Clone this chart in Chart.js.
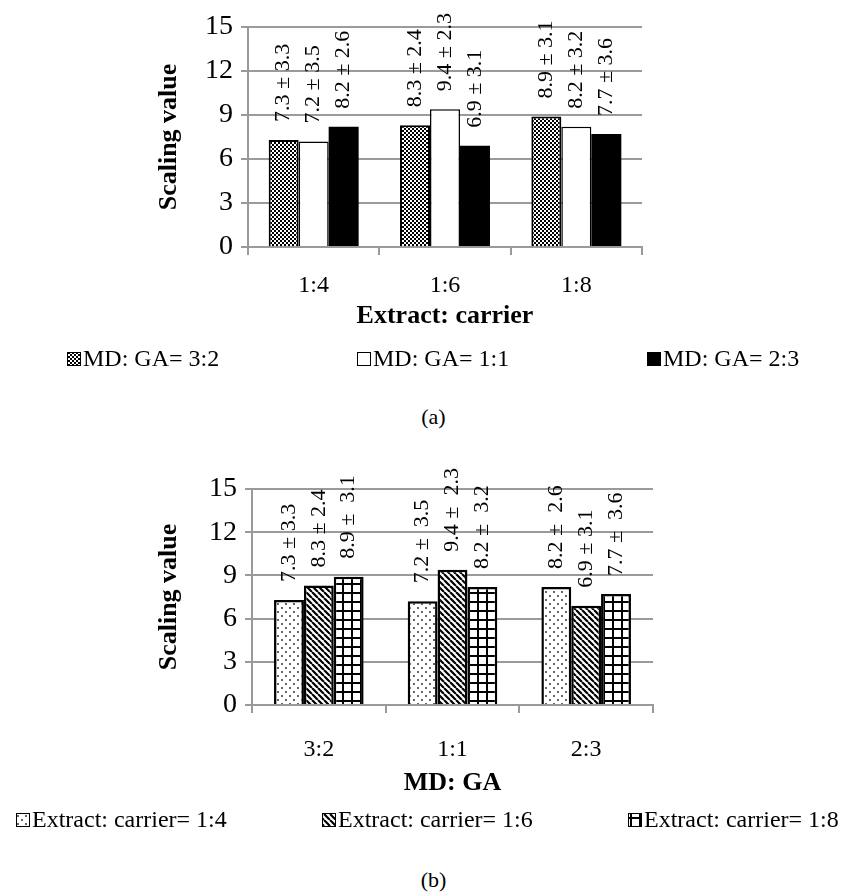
<!DOCTYPE html>
<html>
<head>
<meta charset="utf-8">
<script src="https://cdn.jsdelivr.net/npm/chart.js@4.4.0/dist/chart.umd.min.js"></script>
<style>
  body { margin: 0; background: #fff; overflow: hidden; font-family: 'Liberation Serif', serif; }
  .box { position: absolute; left: 0; width: 867px; }
  .cap { position: absolute; left: 0; width: 867px; text-align: center; font-size: 22px; line-height: 24px; }
</style>
</head>
<body>
<div class="box" style="top:0;height:380px"><canvas id="chartA"></canvas></div>
<div class="cap" style="top:405px">(a)</div>
<div class="box" style="top:430px;height:420px"><canvas id="chartB"></canvas></div>
<div class="cap" style="top:868px">(b)</div>
<script>
// (a) grouped by extract: carrier
const carrierCats = ['1:4', '1:6', '1:8'];
const mdga32 = [7.3, 8.3, 8.9];
const mdga11 = [7.2, 9.4, 8.2];
const mdga23 = [8.2, 6.9, 7.7];
const mdga32Sd = [3.3, 2.4, 3.1];
const mdga11Sd = [3.5, 2.3, 3.2];
const mdga23Sd = [2.6, 3.1, 3.6];

// (b) grouped by MD: GA
const mdgaCats = ['3:2', '1:1', '2:3'];
const carrier14 = [7.3, 7.2, 8.2];
const carrier16 = [8.3, 9.4, 6.9];
const carrier18 = [8.9, 8.2, 7.7];
const carrier14Labels = ['7.3 ± 3.3', '7.2 ±  3.5', '8.2 ±  2.6'];
const carrier16Labels = ['8.3 ± 2.4', '9.4 ±  2.3', '6.9 ± 3.1'];
const carrier18Labels = ['8.9 ±  3.1', '8.2 ±  3.2', '7.7 ±  3.6'];

const yTicks = [0, 3, 6, 9, 12, 15];

const serif = 'Liberation Serif';
const gridGrey = '#9a9a9a';

function withSd(means, sds) {
    return means.map((m, i) => m.toFixed(1) + ' ± ' + sds[i].toFixed(1));
}

function makePattern(size, draw) {
    const c = document.createElement('canvas');
    c.width = size;
    c.height = size;
    const g = c.getContext('2d');
    g.fillStyle = '#fff';
    g.fillRect(0, 0, size, size);
    g.fillStyle = '#000';
    g.strokeStyle = '#000';
    draw(g, size);
    return g.createPattern(c, 'repeat');
}

const checker = makePattern(4, g => {
    g.fillRect(0, 0, 2, 2);
    g.fillRect(2, 2, 2, 2);
});
const dots = makePattern(8, g => {
    g.fillStyle = '#666';
    g.fillRect(1, 1, 2, 2);
    g.fillRect(5, 5, 2, 2);
});
const stripes = makePattern(6, (g, s) => {
    g.lineWidth = 2.2;
    g.beginPath();
    for (let k = -s; k <= s; k += s) {
        g.moveTo(k, 0);
        g.lineTo(k + s, s);
    }
    g.stroke();
});
const grid = makePattern(9, g => {
    g.fillRect(0, 0, 9, 2);
    g.fillRect(0, 0, 2, 9);
});

// rotated "mean ± sd" text above each bar
const valueLabels = {
    id: 'valueLabels',
    afterDatasetsDraw(chart, args, opts) {
        const ctx = chart.ctx;
        chart.data.datasets.forEach((ds, i) => {
            chart.getDatasetMeta(i).data.forEach((bar, j) => {
                ctx.save();
                ctx.translate(bar.x, bar.y - opts.gap);
                ctx.rotate(-Math.PI / 2);
                ctx.font = opts.size + 'px "' + serif + '"';
                ctx.fillStyle = '#000';
                ctx.textAlign = 'left';
                ctx.textBaseline = 'middle';
                ctx.fillText(ds.valueText[j], 0, 0);
                ctx.restore();
            });
        });
    }
};

// legend spread out like the Excel one
const patternLegend = {
    id: 'patternLegend',
    afterDraw(chart, args, opts) {
        const ctx = chart.ctx;
        ctx.save();
        ctx.font = opts.size + 'px "' + serif + '"';
        ctx.textBaseline = 'middle';
        ctx.textAlign = 'left';
        chart.data.datasets.forEach((ds, i) => {
            const x = opts.x[i];
            const y = opts.y;
            ctx.fillStyle = ds.backgroundColor;
            ctx.fillRect(x, y - 7, 14, 14);
            ctx.lineWidth = 1;
            ctx.strokeStyle = '#000';
            ctx.strokeRect(x + 0.5, y - 6.5, 13, 13);
            ctx.fillStyle = '#000';
            ctx.fillText(ds.label, x + 16, y + 1);
        });
        ctx.restore();
    }
};

function buildOptions(cfg) {
    return {
        responsive: true,
        maintainAspectRatio: false,
        animation: false,
        layout: { padding: { top: cfg.top, left: 0, right: 0, bottom: 0 } },
        plugins: {
            legend: { display: false },
            tooltip: { enabled: false },
            valueLabels: { gap: 18, size: 22 },
            patternLegend: { x: cfg.legendX, y: cfg.legendY, size: 24 }
        },
        scales: {
            x: {
                grid: { offset: true, drawOnChartArea: false, drawTicks: true, tickLength: 8, color: gridGrey, lineWidth: 2 },
                border: { color: gridGrey, width: 2 },
                ticks: { color: '#000', padding: cfg.xTickPad, font: { family: serif, size: 24 } },
                title: {
                    display: true,
                    text: cfg.xTitle,
                    color: '#000',
                    padding: { top: 0, bottom: cfg.xTitlePad },
                    font: { family: serif, size: 26, weight: 'bold' }
                },
                afterFit: s => { s.height = cfg.xHeight; }
            },
            y: {
                min: 0,
                max: 15,
                afterBuildTicks: s => { s.ticks = yTicks.map(v => ({ value: v })); },
                grid: { color: gridGrey, lineWidth: 2, tickLength: 7 },
                border: { color: gridGrey, width: 2 },
                ticks: { color: '#000', padding: 8, font: { family: serif, size: 28 } },
                title: {
                    display: true,
                    text: 'Scaling value',
                    color: '#000',
                    padding: { top: cfg.yTitlePad, bottom: 0 },
                    font: { family: serif, size: 26, weight: 'bold' }
                },
                afterFit: s => { s.width = cfg.yWidth; }
            },
            spacer: {
                type: 'linear',
                position: 'right',
                grid: { display: false },
                ticks: { display: false },
                border: { display: false },
                afterFit: s => { s.width = cfg.rightWidth; }
            }
        }
    };
}

new Chart(document.getElementById('chartA'), {
    type: 'bar',
    data: {
        labels: carrierCats,
        datasets: [
            { label: 'MD: GA= 3:2', data: mdga32, valueText: withSd(mdga32, mdga32Sd), backgroundColor: checker, borderColor: '#000', borderWidth: 2 },
            { label: 'MD: GA= 1:1', data: mdga11, valueText: withSd(mdga11, mdga11Sd), backgroundColor: '#fff', borderColor: '#000', borderWidth: 1.5 },
            { label: 'MD: GA= 2:3', data: mdga23, valueText: withSd(mdga23, mdga23Sd), backgroundColor: '#000', borderColor: '#000', borderWidth: 0 }
        ].map(d => Object.assign(d, { categoryPercentage: 0.685, barPercentage: 1 }))
    },
    options: buildOptions({
        top: 27, yWidth: 248, yTitlePad: 154, rightWidth: 225,
        xHeight: 133, xTickPad: 16, xTitle: 'Extract: carrier', xTitlePad: 48,
        legendX: [67, 357, 647], legendY: 359
    }),
    plugins: [valueLabels, patternLegend]
});

new Chart(document.getElementById('chartB'), {
    type: 'bar',
    data: {
        labels: mdgaCats,
        datasets: [
            { label: 'Extract: carrier= 1:4', data: carrier14, valueText: carrier14Labels, backgroundColor: dots },
            { label: 'Extract: carrier= 1:6', data: carrier16, valueText: carrier16Labels, backgroundColor: stripes },
            { label: 'Extract: carrier= 1:8', data: carrier18, valueText: carrier18Labels, backgroundColor: grid }
        ].map(d => Object.assign(d, { borderColor: '#000', borderWidth: 2.5, categoryPercentage: 0.67, barPercentage: 1 }))
    },
    options: buildOptions({
        top: 59, yWidth: 252, yTitlePad: 154, rightWidth: 214,
        xHeight: 145, xTickPad: 22, xTitle: 'MD: GA', xTitlePad: 51,
        legendX: [16, 322, 628], legendY: 390
    }),
    plugins: [valueLabels, patternLegend]
});
</script>
</body>
</html>
